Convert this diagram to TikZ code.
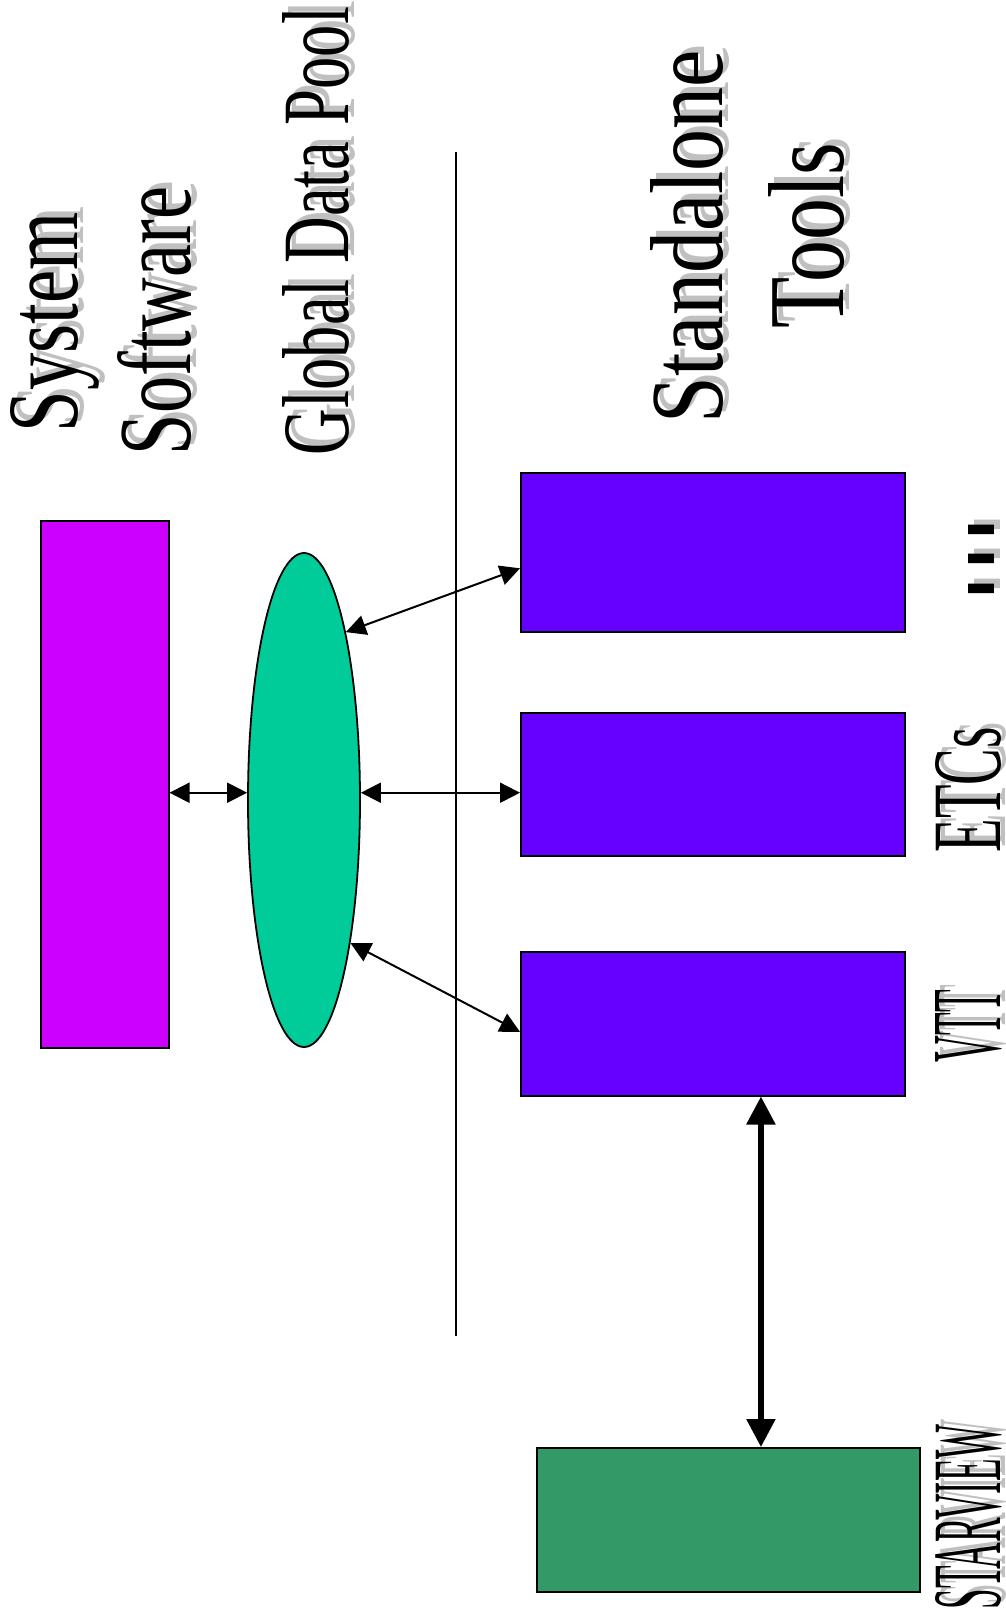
\documentclass[tikz,border=0pt]{standalone}
\usepackage{fontspec}
\setmainfont{Liberation Serif}
\newfontfamily\dotfont{DejaVu Sans}
\usepackage{graphicx}
\usetikzlibrary{shapes.geometric,arrows.meta,calc}
\definecolor{ssmag}{RGB}{204,0,255}
\definecolor{gdpgreen}{RGB}{0,204,153}
\definecolor{toolpurple}{RGB}{102,0,255}
\definecolor{svgreen}{RGB}{51,153,102}
\definecolor{shadowgray}{RGB}{192,192,192}
\begin{document}
\begin{tikzpicture}[x=1pt,y=-1pt,
  boxst/.style={draw=black,line width=1.5pt,inner sep=0pt,anchor=north west},
  toolbox/.style={boxst,fill=toolpurple,minimum width=384pt},
  lbl/.style={rotate=90,anchor=base,inner sep=0pt,font=\fontsize{100}{100}\selectfont},
  shd/.style={lbl,text=shadowgray},
  arr/.style={line width=2pt,{Triangle[length=20pt,width=20pt]}-{Triangle[length=20pt,width=20pt]}},
  bigarr/.style={line width=5.5pt,{Triangle[length=28pt,width=28pt]}-{Triangle[length=28pt,width=28pt]}}]
\useasboundingbox (0,0) rectangle (1006,1620);
% boxes
\node[boxst,fill=ssmag,minimum width=128pt,minimum height=527pt] (sys) at (40,520) {};
\node[draw=black,line width=1.8pt,fill=gdpgreen,ellipse,minimum width=112pt,minimum height=494pt,inner sep=0pt] (gdp) at (304,800) {};
\node[toolbox,minimum height=159pt] (box1) at (520,472) {};
\node[toolbox,minimum height=143pt] (box2) at (520,712) {};
\node[toolbox,minimum height=144pt] (box3) at (520,951) {};
\node[boxst,fill=svgreen,minimum width=383pt,minimum height=144pt] (sv) at (536,1447) {};
% separator line
\coordinate (ltop) at (455.5,152);
\coordinate (lbot) at (455.5,1336);
\draw[line width=2pt] (ltop) -- (lbot);
% connectors
\coordinate (a1) at ($(sys.north east)!0.516!(sys.south east)$);
\draw[arr] (a1) -- (a1 -| gdp.west);
\draw[arr] (a1 -| gdp.east) -- (a1 -| box2.west);
\draw[arr] (gdp.76) -- ($(box1.north west)!0.6!(box1.south west)$);
\draw[arr] (gdp.-72) -- ($(box3.north west)!0.556!(box3.south west)$);
\coordinate (b1) at ($(box3.south west)!0.625!(box3.south east)$);
\draw[bigarr] (b1) -- (b1 |- sv.north);
% labels (shadow first, then text)
\node[shd] (sysS) at (83,316) {\resizebox{220pt}{67pt}{System}};
\node[lbl] (sysT) at (77,322) {\resizebox{220pt}{67pt}{System}};
\node[shd] (softS) at (196,315) {\resizebox{268pt}{73pt}{Software}};
\node[lbl] (softT) at (190,321) {\resizebox{268pt}{73pt}{Software}};
\node[shd] (gdpS) at (354,225) {\resizebox{448pt}{66pt}{Global Data Pool}};
\node[lbl] (gdpT) at (348,231) {\resizebox{448pt}{66pt}{Global Data Pool}};
\node[shd] (saS) at (728,230.5) {\resizebox{373pt}{72pt}{Standalone}};
\node[lbl] (saT) at (722,236.5) {\resizebox{373pt}{72pt}{Standalone}};
\node[shd] (toolsS) at (849,229.5) {\resizebox{185pt}{75pt}{Tools}};
\node[lbl] (toolsT) at (843,235.5) {\resizebox{185pt}{75pt}{Tools}};
\node[shd] (dotsS) at (1000,554) {\resizebox{88pt}{26pt}{\dotfont ...}};
\node[lbl] (dotsT) at (994,559) {\resizebox{88pt}{26pt}{\dotfont ...}};
\node[shd] (etcS) at (1005,785) {\resizebox{125pt}{65pt}{ETCs}};
\node[lbl] (etcT) at (1000,790) {\resizebox{125pt}{65pt}{ETCs}};
\node[shd] (vttS) at (1005,1021) {\resizebox{72pt}{65pt}{VTT}};
\node[lbl] (vttT) at (1000,1026) {\resizebox{72pt}{65pt}{VTT}};
\node[shd] (svS) at (1005,1512) {\resizebox{185pt}{65pt}{STARVIEW}};
\node[lbl] (svT) at (1000,1517) {\resizebox{185pt}{65pt}{STARVIEW}};
\end{tikzpicture}
\end{document}
